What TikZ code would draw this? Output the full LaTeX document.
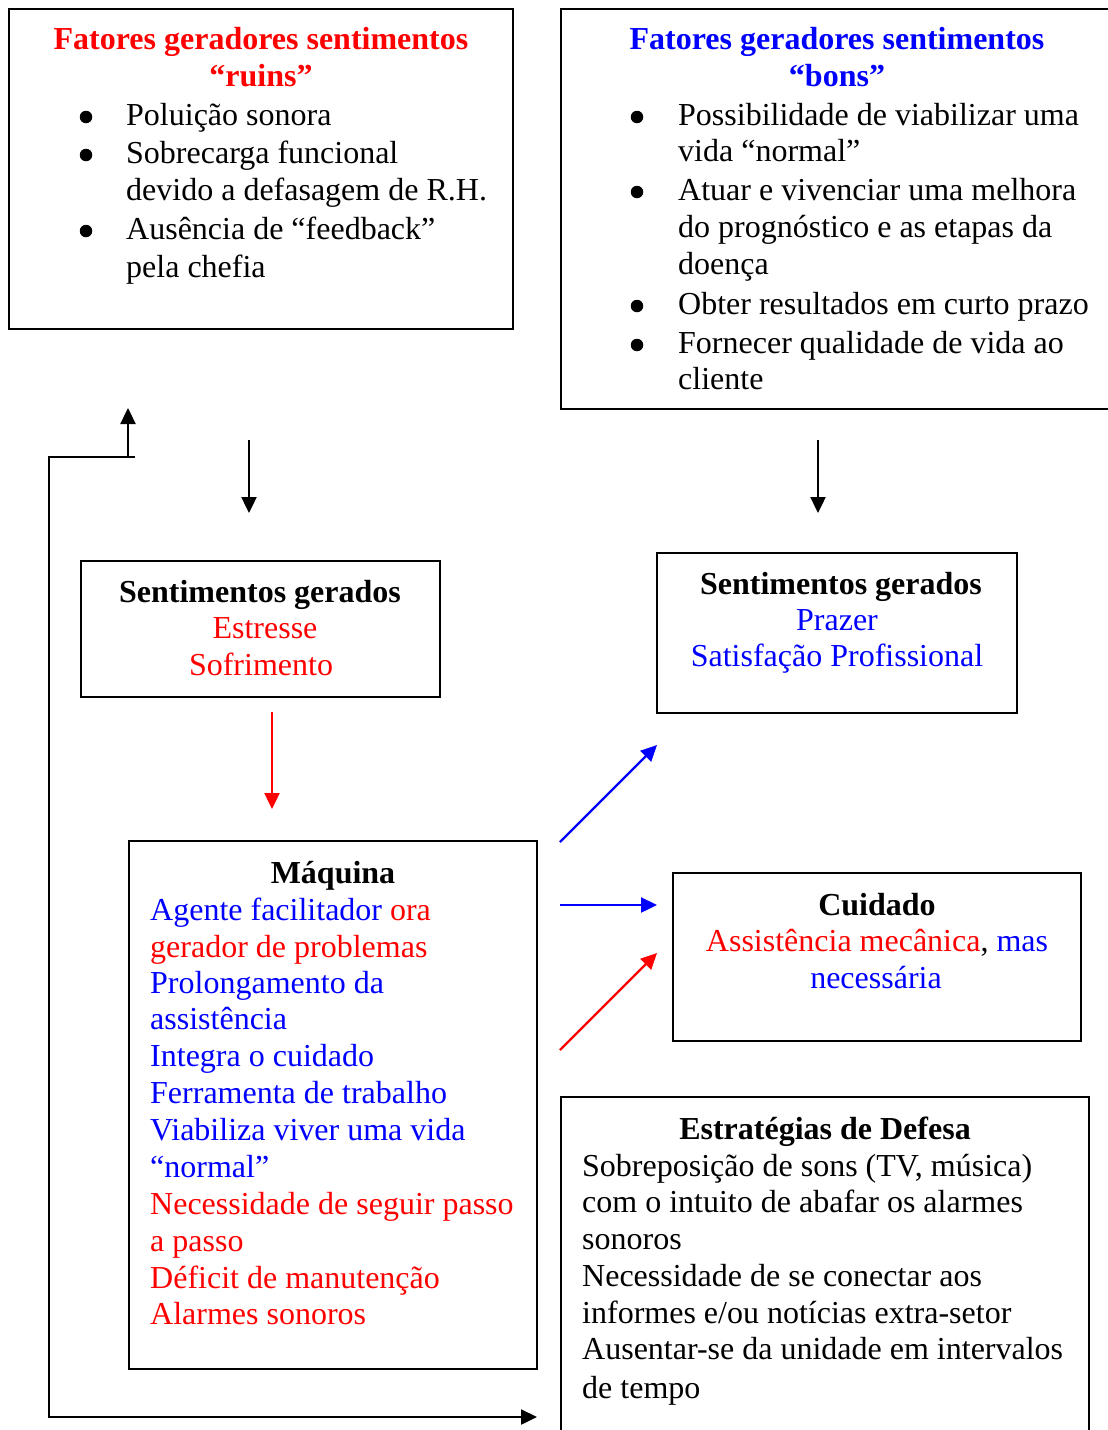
\documentclass[tikz,border=0pt]{standalone}
\usepackage{fontspec}
\setmainfont{Liberation Serif}
\usetikzlibrary{arrows.meta}
\definecolor{pred}{RGB}{255,0,0}
\definecolor{pblue}{RGB}{0,0,255}
\begin{document}
\begin{tikzpicture}[x=1pt,y=-1pt,
  box/.style={draw, line width=2pt, inner sep=0pt, outer sep=0pt, anchor=north west},
  txt/.style={anchor=base west, inner sep=0pt, font=\fontsize{32}{37}\selectfont},
  ctxt/.style={anchor=base, inner sep=0pt, font=\fontsize{32}{37}\selectfont},
  btxt/.style={anchor=base, inner sep=0pt, font=\fontsize{32}{37}\selectfont\bfseries},
  bul/.style={circle, fill=black, inner sep=0pt, minimum size=12.5pt},
  arr/.style={line width=2.4pt, -{Triangle[length=16pt,width=15pt]}}]
\useasboundingbox (0,0) rectangle (1108,1430);

% boxes
\node[box, minimum width=504pt, minimum height=320pt] (b1) at (9,9) {};
\node[box, minimum width=560pt, minimum height=400pt] (b2) at (561,9) {};
\node[box, minimum width=359pt, minimum height=136pt] (b3) at (81,561) {};
\node[box, minimum width=360pt, minimum height=160pt] (b4) at (657,553) {};
\node[box, minimum width=408pt, minimum height=528pt] (b5) at (129,841) {};
\node[box, minimum width=408pt, minimum height=168pt] (b6) at (673,873) {};
\node[box, minimum width=528pt, minimum height=360pt] (b7) at (561,1097) {};

% box 1
\node[btxt, text=pred] (t1a) at (261,49) {Fatores geradores sentimentos};
\node[btxt, text=pred] (t1b) at (261,86) {“ruins”};
\node[bul] (u1a) at (86,117) {};
\node[bul] (u1b) at (86,155) {};
\node[bul] (u1c) at (86,231) {};
\node[txt] (l1a) at (126,125) {Poluição sonora};
\node[txt] (l1b) at (126,163) {Sobrecarga funcional};
\node[txt] (l1c) at (126,200) {devido a defasagem de R.H.};
\node[txt] (l1d) at (126,239) {Ausência de “feedback”};
\node[txt] (l1e) at (126,277) {pela chefia};

% box 2
\node[btxt, text=pblue] (t2a) at (837,49) {Fatores geradores sentimentos};
\node[btxt, text=pblue] (t2b) at (837,86) {“bons”};
\node[bul] (u2a) at (637,117) {};
\node[bul] (u2b) at (637,192) {};
\node[bul] (u2c) at (637,306) {};
\node[bul] (u2d) at (637,345) {};
\node[txt] (l2a) at (678,125) {Possibilidade de viabilizar uma};
\node[txt] (l2b) at (678,161) {vida “normal”};
\node[txt] (l2c) at (678,200) {Atuar e vivenciar uma melhora};
\node[txt] (l2d) at (678,237) {do prognóstico e as etapas da};
\node[txt] (l2e) at (678,274) {doença};
\node[txt] (l2f) at (678,314) {Obter resultados em curto prazo};
\node[txt] (l2g) at (678,353) {Fornecer qualidade de vida ao};
\node[txt] (l2h) at (678,389) {cliente};

% box 3
\node[btxt] (t3) at (260,602) {Sentimentos gerados};
\node[ctxt, text=pred] (l3a) at (265,638) {Estresse};
\node[ctxt, text=pred] (l3b) at (261,675) {Sofrimento};

% box 4
\node[btxt] (t4) at (841,594) {Sentimentos gerados};
\node[ctxt, text=pblue] (l4a) at (837,630) {Prazer};
\node[ctxt, text=pblue] (l4b) at (837,666) {Satisfação Profissional};

% box 5
\node[btxt] (t5) at (333,883) {Máquina};
\node[txt] (l5a) at (150,920) {\textcolor{pblue}{Agente facilitador} \textcolor{pred}{ora}};
\node[txt, text=pred] (l5b) at (150,957) {gerador de problemas};
\node[txt, text=pblue] (l5c) at (150,993) {Prolongamento da};
\node[txt, text=pblue] (l5d) at (150,1029) {assistência};
\node[txt, text=pblue] (l5e) at (150,1066) {Integra o cuidado};
\node[txt, text=pblue] (l5f) at (150,1103) {Ferramenta de trabalho};
\node[txt, text=pblue] (l5g) at (150,1140) {Viabiliza viver uma vida};
\node[txt, text=pblue] (l5h) at (150,1177) {“normal”};
\node[txt, text=pred] (l5i) at (150,1214) {Necessidade de seguir passo};
\node[txt, text=pred] (l5j) at (150,1251) {a passo};
\node[txt, text=pred] (l5k) at (150,1288) {Déficit de manutenção};
\node[txt, text=pred] (l5l) at (150,1324) {Alarmes sonoros};

% box 6
\node[btxt] (t6) at (877,915) {Cuidado};
\node[ctxt] (l6a) at (877,951) {\textcolor{pred}{Assistência mecânica}, \textcolor{pblue}{mas}};
\node[ctxt, text=pblue] (l6b) at (876,988) {necessária};

% box 7
\node[btxt] (t7) at (825,1139) {Estratégias de Defesa};
\node[txt] (l7a) at (582,1176) {Sobreposição de sons (TV, música)};
\node[txt] (l7b) at (582,1212) {com o intuito de abafar os alarmes};
\node[txt] (l7c) at (582,1249) {sonoros};
\node[txt] (l7d) at (582,1286) {Necessidade de se conectar aos};
\node[txt] (l7e) at (582,1323) {informes e/ou notícias extra-setor};
\node[txt] (l7f) at (582,1359) {Ausentar-se da unidade em intervalos};
\node[txt] (l7g) at (582,1398) {de tempo};

% connector end points
\coordinate (a1s) at (249,440); \coordinate (a1e) at (249,513);
\coordinate (a2s) at (818,440); \coordinate (a2e) at (818,513);
\coordinate (a3s) at (272,712); \coordinate (a3e) at (272,809);
\coordinate (a4s) at (560,842); \coordinate (a4e) at (657,745);
\coordinate (a5s) at (560,905); \coordinate (a5e) at (657,905);
\coordinate (a6s) at (560,1050); \coordinate (a6e) at (657,953);
\coordinate (f1) at (135,457); \coordinate (f2) at (49,457);
\coordinate (f3) at (49,1417); \coordinate (f4) at (537,1417);
\coordinate (g1) at (128,458); \coordinate (g2) at (128,408);

\draw[arr] (a1s) -- (a1e);
\draw[arr] (a2s) -- (a2e);
\draw[arr, pred] (a3s) -- (a3e);
\draw[arr, pblue] (a4s) -- (a4e);
\draw[arr, pblue] (a5s) -- (a5e);
\draw[arr, pred] (a6s) -- (a6e);
\draw[arr] (f1) -- (f2) -- (f3) -- (f4);
\draw[arr] (g1) -- (g2);
\end{tikzpicture}
\end{document}
